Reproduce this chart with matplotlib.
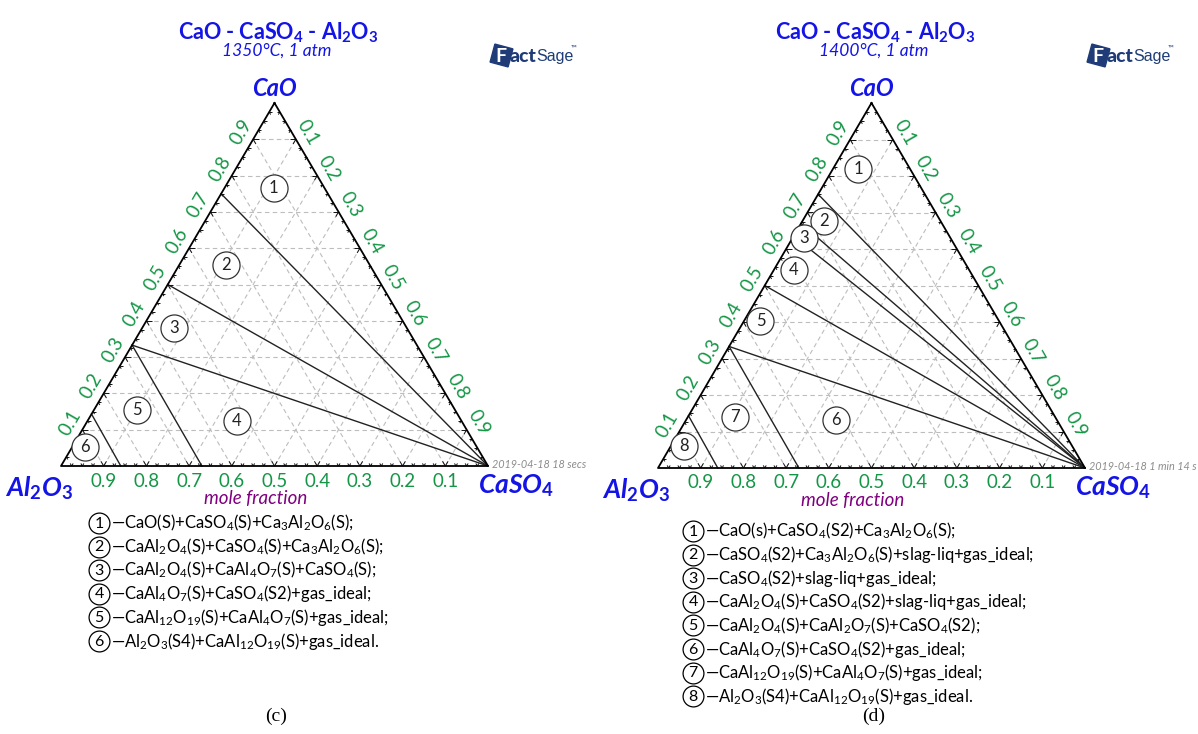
import numpy as np
import matplotlib
matplotlib.use("Agg")
import matplotlib.pyplot as plt
from matplotlib.collections import LineCollection

plt.rcParams['font.family'] = ['Lato', 'DejaVu Sans']
plt.rcParams['mathtext.fontset'] = 'custom'
plt.rcParams['mathtext.rm'] = 'Lato'
plt.rcParams['mathtext.it'] = 'Lato:italic'
plt.rcParams['mathtext.bf'] = 'Lato:bold'

W, H = 1198, 734

# axis tick values (mole fraction)
tick_vals = [0.1, 0.2, 0.3, 0.4, 0.5, 0.6, 0.7, 0.8, 0.9]

temps = ["1350°C, 1 atm", "1400°C, 1 atm"]
stamps = ["2019-04-18 18 secs", "2019-04-18 1 min 14 s"]
captions = ["(c)", "(d)"]

# phase boundaries, end points given as (CaO, CaSO4) mole fractions
bounds_c = [
    [(0.75, 0.0), (0.0, 1.0)],
    [(0.5, 0.0), (0.0, 1.0)],
    [(0.333, 0.0), (0.0, 1.0)],
    [(0.333, 0.0), (0.0, 0.33)],
    [(0.143, 0.0), (0.0, 0.14)],
]
bounds_d = [
    [(0.75, 0.0), (0.0, 1.0)],
    [(0.67, 0.0), (0.0, 1.0)],
    [(0.635, 0.0), (0.0, 1.0)],
    [(0.5, 0.0), (0.0, 1.0)],
    [(0.333, 0.0), (0.0, 1.0)],
    [(0.333, 0.0), (0.0, 0.33)],
    [(0.143, 0.0), (0.0, 0.14)],
]

# region number positions (CaO, CaSO4)
regions_c = [(0.766, 0.115), (0.554, 0.11), (0.381, 0.074),
             (0.124, 0.35), (0.154, 0.10), (0.052, 0.031)]
regions_d = [(0.819, 0.06), (0.677, 0.05), (0.631, 0.027), (0.542, 0.047),
             (0.404, 0.038), (0.132, 0.351), (0.139, 0.111), (0.059, 0.031)]

legend_c = [
    r"—CaO(S)+CaSO$_4$(S)+Ca$_3$Al$_2$O$_6$(S);",
    r"—CaAl$_2$O$_4$(S)+CaSO$_4$(S)+Ca$_3$Al$_2$O$_6$(S);",
    r"—CaAl$_2$O$_4$(S)+CaAl$_4$O$_7$(S)+CaSO$_4$(S);",
    r"—CaAl$_4$O$_7$(S)+CaSO$_4$(S2)+gas_ideal;",
    r"—CaAl$_{12}$O$_{19}$(S)+CaAl$_4$O$_7$(S)+gas_ideal;",
    r"—Al$_2$O$_3$(S4)+CaAl$_{12}$O$_{19}$(S)+gas_ideal.",
]
legend_d = [
    r"—CaO(s)+CaSO$_4$(S2)+Ca$_3$Al$_2$O$_6$(S);",
    r"—CaSO$_4$(S2)+Ca$_3$Al$_2$O$_6$(S)+slag-liq+gas_ideal;",
    r"—CaSO$_4$(S2)+slag-liq+gas_ideal;",
    r"—CaAl$_2$O$_4$(S)+CaSO$_4$(S2)+slag-liq+gas_ideal;",
    r"—CaAl$_2$O$_4$(S)+CaAl$_2$O$_7$(S)+CaSO$_4$(S2);",
    r"—CaAl$_4$O$_7$(S)+CaSO$_4$(S2)+gas_ideal;",
    r"—CaAl$_{12}$O$_{19}$(S)+CaAl$_4$O$_7$(S)+gas_ideal;",
    r"—Al$_2$O$_3$(S4)+CaAl$_{12}$O$_{19}$(S)+gas_ideal.",
]

BLUE = '#1414e6'
GREEN = '#149646'
NAVY = '#1f3c78'
S3 = np.sqrt(3) / 2


def tern(cao, caso4):
    cao = np.asarray(cao, float)
    caso4 = np.asarray(caso4, float)
    return caso4 + cao / 2, cao * S3


def draw_panel(ax, bounds, regions):
    ax.set_xlim(0, 1)
    ax.set_ylim(0, S3)
    ax.axis('off')

    # dashed grid
    for v in tick_vals:
        for p0, p1 in [((v, 0), (v, 1 - v)), ((0, v), (1 - v, v)), ((1 - v, 0), (0, 1 - v))]:
            x, y = tern([p0[0], p1[0]], [p0[1], p1[1]])
            ax.plot(x, y, ls=(0, (4, 3)), color='#bdbdbd', lw=0.8, zorder=1)

    # small chevron ticks along the edges
    segs = []
    for t in np.arange(0.025, 0.99, 0.025):
        L = 0.013 if abs(t * 10 - round(t * 10)) < 1e-6 else 0.007
        for pt, dirs in [(tern(0, t), [(-0.5, S3), (0.5, S3)]),
                         (tern(t, 0), [(1, 0), (0.5, -S3)]),
                         (tern(t, 1 - t), [(-1, 0), (-0.5, -S3)])]:
            px, py = float(pt[0]), float(pt[1])
            for dx, dy in dirs:
                segs.append([(px, py), (px + L * dx, py + L * dy)])
    ax.add_collection(LineCollection(segs, colors='#111111', lw=0.7, zorder=3))

    # triangle frame
    x, y = tern([1, 0, 0, 1], [0, 0, 1, 0])
    ax.plot(x, y, color='black', lw=1.3, zorder=3, clip_on=False)

    # phase boundaries
    for p0, p1 in bounds:
        x, y = tern([p0[0], p1[0]], [p0[1], p1[1]])
        ax.plot(x, y, color='#222222', lw=1.0, zorder=2, clip_on=False)

    # tick labels
    for v in tick_vals:
        lab = f"{v:.1f}"
        x, y = tern(0, 1 - v)
        ax.annotate(lab, (x, y), xytext=(0, -15), textcoords='offset pixels',
                    ha='center', va='center', color=GREEN, fontsize=13.5, annotation_clip=False)
        x, y = tern(v, 0)
        ax.annotate(lab, (x, y), xytext=(-12, 7), textcoords='offset pixels',
                    ha='center', va='center', color=GREEN, fontsize=13.5, rotation=60,
                    annotation_clip=False)
        x, y = tern(1 - v, v)
        ax.annotate(lab, (x, y), xytext=(12, 7), textcoords='offset pixels',
                    ha='center', va='center', color=GREEN, fontsize=13.5, rotation=-60,
                    annotation_clip=False)

    # region numbers
    for i, (c, s) in enumerate(regions):
        x, y = tern(c, s)
        ax.plot(x, y, 'o', ms=19.5, mfc='white', mec='#333333', mew=0.9, zorder=5, clip_on=False)
        ax.text(x, y, str(i + 1), ha='center', va='center', fontsize=12,
                color='#222222', zorder=6)


fig = plt.figure(figsize=(W / 100, H / 100), dpi=100)

panels = [
    dict(left=61, right=488, bottom=466, top=103, bounds=bounds_c, regions=regions_c, legend=legend_c,
         leg_y=523, leg_x=99),
    dict(left=658, right=1085, bottom=468, top=103, bounds=bounds_d, regions=regions_d, legend=legend_d,
         leg_y=531, leg_x=693),
]

# overlay axes in pixel units for decorations and legends
deco = fig.add_axes([0, 0, 1, 1])
deco.set_xlim(0, W)
deco.set_ylim(H, 0)
deco.axis('off')

for k, p in enumerate(panels):
    ax = fig.add_axes([p['left'] / W, 1 - p['bottom'] / H,
                       (p['right'] - p['left']) / W, (p['bottom'] - p['top']) / H])
    draw_panel(ax, p['bounds'], p['regions'])

    cx = (p['left'] + p['right']) / 2
    off = p['bottom'] - 466
    deco.text(cx + 4, 33, r"CaO - CaSO$_\mathbf{4}$ - Al$_\mathbf{2}$O$_\mathbf{3}$",
              ha='center', va='center', fontsize=15.5, fontweight='bold', color=BLUE)
    deco.text(cx + 2, 51, temps[k], ha='center', va='center', fontsize=12.5,
              style='italic', color=BLUE)
    deco.text(cx, 88, "CaO", ha='center', va='center', fontsize=17,
              fontweight='bold', style='italic', color=BLUE)
    deco.text(p['left'] - 22, 488 + off, r"Al$_\mathbf{2}$O$_\mathbf{3}$", ha='center', va='center',
              fontsize=19, fontweight='bold', style='italic', color=BLUE)
    deco.text(p['right'] + 28, 486 + off, r"CaSO$_\mathbf{4}$", ha='center', va='center',
              fontsize=19, fontweight='bold', style='italic', color=BLUE)
    deco.text(cx - 19, 499 + off, "mole fraction", ha='center', va='center', fontsize=13.5,
              style='italic', color='#800080')
    deco.text(p['right'] + 4, 464 + off, stamps[k], ha='left', va='center', fontsize=7.8,
              style='italic', color='#8c8c8c')

    # FactSage logo
    lx = p['right'] + 13
    deco.plot(lx, 55, marker=(4, 0, 30), ms=19, color=NAVY)
    deco.text(lx, 56, "F", ha='center', va='center', fontsize=14, fontweight='bold', color='white')
    deco.text(lx + 9, 57, "act", ha='left', va='center', fontsize=14, fontweight='black', color=NAVY)
    deco.text(lx + 35, 57, "Sage", ha='left', va='center', fontsize=11.5, color=NAVY,
              family='Liberation Sans')
    deco.text(lx + 70, 48, "™", ha='left', va='center', fontsize=5.5, color=NAVY)

    # legend
    for i, entry in enumerate(p['legend']):
        y = p['leg_y'] + 23.6 * i
        deco.plot(p['leg_x'], y, 'o', ms=15, mfc='white', mec='black', mew=0.9)
        deco.text(p['leg_x'], y + 0.5, str(i + 1), ha='center', va='center', fontsize=11.5)
        deco.text(p['leg_x'] + 12, y, entry, ha='left', va='center', fontsize=12)

    deco.text(cx + 2, 716, captions[k], ha='center', va='center', fontsize=14,
              family='Liberation Serif')

fig.savefig("out.png", dpi=100)
